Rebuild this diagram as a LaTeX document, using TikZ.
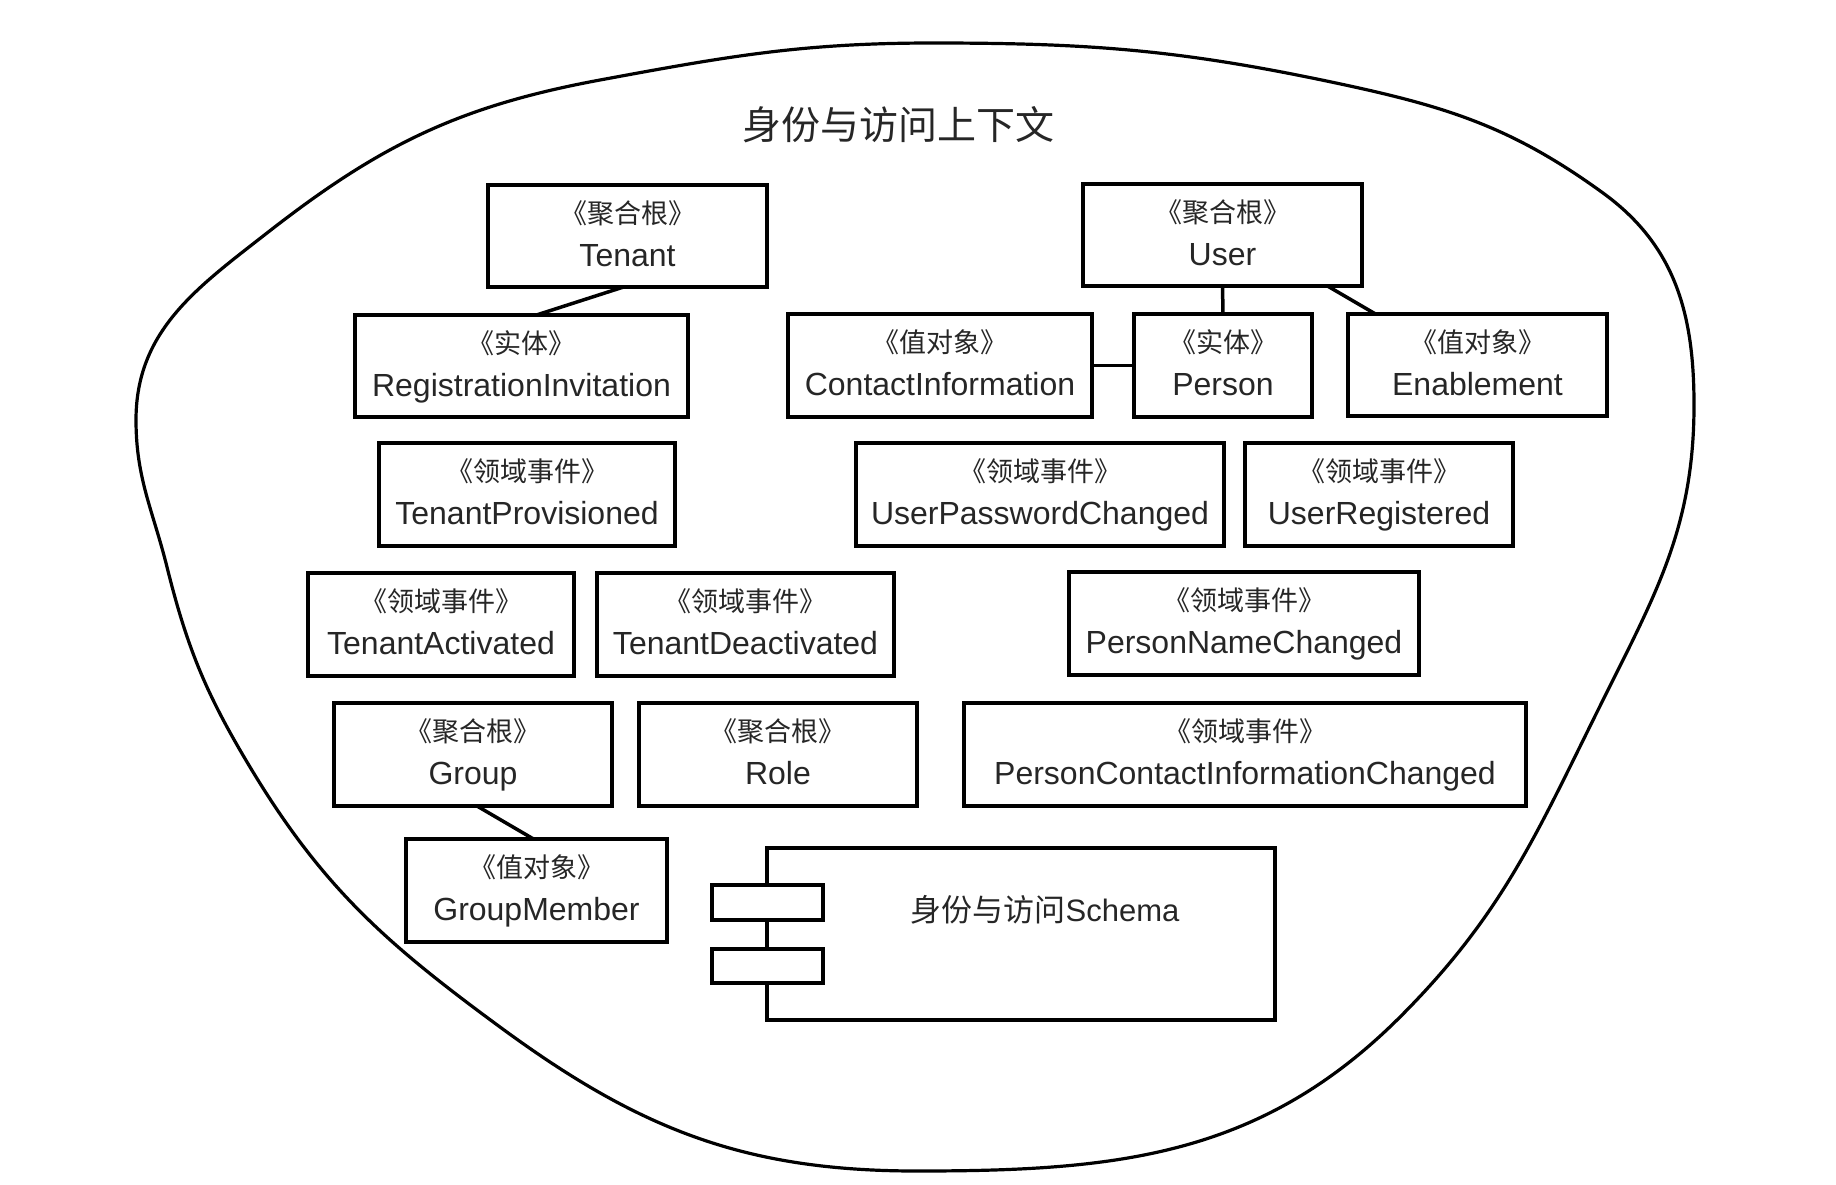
\documentclass[tikz,border=0pt]{standalone}
\usepackage{fontspec}
\setmainfont{Liberation Sans}
\newfontfamily\cjk{Noto Sans CJK SC}
\usetikzlibrary{fit}

% one UML box: name, x1, y1, x2, y2, stereotype, class name
\newcommand\umlclass[7]{%
  \node[classbox, fit={(#2,#3) (#4,#5)}] (#1) {};
  \node[stereotxt] (#1-st) at ([yshift=-38pt]#1.north) {#6};
  \node[nametxt] (#1-nm) at ([yshift=-81pt]#1.north) {#7};
}

\begin{document}
\begin{tikzpicture}[x=1pt, y=-1pt,
  classbox/.style={draw=black, line width=4.5pt, inner sep=0pt, outer sep=0pt},
  stereotxt/.style={anchor=base, inner sep=0pt, text=black!85,
    font=\cjk\fontsize{27}{32}\selectfont},
  nametxt/.style={anchor=base, inner sep=0pt, text=black!85,
    font=\fontsize{32}{38}\selectfont},
  titletxt/.style={anchor=center, inner sep=0pt, text=black!85,
    font=\cjk\fontsize{39}{44}\selectfont},
  schematxt/.style={anchor=base, inner sep=0pt, text=black!85,
    font=\fontsize{31}{36}\selectfont},
  link/.style={draw=black, line width=3.5pt},
  contour/.style={draw=black, line width=3.2pt}]

\useasboundingbox (0,0) rectangle (1836,1184);

% bounded context outline, traced clockwise from the top
\draw[contour]
  (933,43)   to[out=0,in=168]      (1336,83)
             to[out=-12,in=144]    (1603,193)
             to[out=-36,in=90]     (1694,405)
             to[out=-90,in=63.5]   (1603,700)
             to[out=-116.5,in=45]  (1400,1017)
             to[out=-135,in=0]     (917,1171)
             to[out=180,in=-36.3]  (500,1027)
             to[out=143.7,in=-59]  (250,767)
             to[out=121,in=-76]    (167,567)
             to[out=104,in=-90]    (136,420)
             to[out=90,in=218]     (267,233)
             to[out=38,in=190.5]   (600,80)
             to[out=10.5,in=180]   (933,43) -- cycle;

\node[titletxt] (title) at (898,125) {身份与访问上下文};

% aggregates, entities, value objects and domain events
\umlclass{tenant}{488}{185}{767}{287}{《聚合根》}{Tenant}
\umlclass{user}{1083}{184}{1362}{286}{《聚合根》}{User}
\umlclass{reginv}{355}{315}{688}{417}{《实体》}{RegistrationInvitation}
\umlclass{contact}{788}{314}{1092}{417}{《值对象》}{ContactInformation}
\umlclass{person}{1134}{314}{1312}{417}{《实体》}{Person}
\umlclass{enable}{1348}{314}{1607}{416}{《值对象》}{Enablement}
\umlclass{tprov}{379}{443}{675}{546}{《领域事件》}{TenantProvisioned}
\umlclass{upwd}{856}{443}{1224}{546}{《领域事件》}{UserPasswordChanged}
\umlclass{ureg}{1245}{443}{1513}{546}{《领域事件》}{UserRegistered}
\umlclass{tact}{308}{573}{574}{676}{《领域事件》}{TenantActivated}
\umlclass{tdeact}{597}{573}{894}{676}{《领域事件》}{TenantDeactivated}
\umlclass{pname}{1069}{572}{1419}{675}{《领域事件》}{PersonNameChanged}
\umlclass{group}{334}{703}{612}{806}{《聚合根》}{Group}
\umlclass{role}{639}{703}{917}{806}{《聚合根》}{Role}
\umlclass{pcic}{964}{703}{1526}{806}{《领域事件》}{PersonContactInformationChanged}
\umlclass{gmember}{406}{839}{667}{942}{《值对象》}{GroupMember}

% associations
\draw[link] ([xshift=-4pt]tenant.south) -- ([xshift=15pt]reginv.north);
\draw[link] (user.south) -- (person.north);
\draw[link] ([xshift=105pt]user.south) -- ([xshift=-102pt]enable.north);
\draw[link] (contact.east) -- (person.west);
\draw[link] ([xshift=4pt]group.south) -- ([xshift=-3pt]gmember.north);

% schema component
\node[classbox, fit={(767,848) (1275,1020)}] (schema) {};
\node[classbox, fill=white, fit={(712,885) (823,920)}] (port1) {};
\node[classbox, fill=white, fit={(712,949) (823,983)}] (port2) {};
\node[schematxt] (schema-t) at ([xshift=24pt,yshift=-73pt]schema.north)
  {{\cjk 身份与访问}Schema};

\end{tikzpicture}
\end{document}
